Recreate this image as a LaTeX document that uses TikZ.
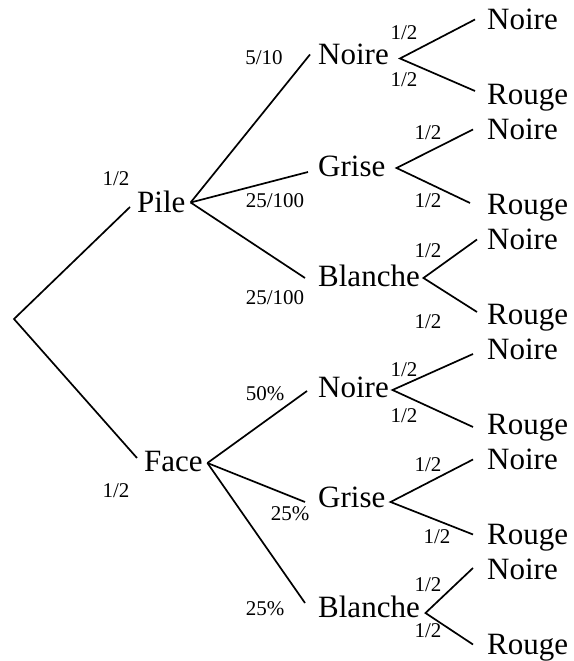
\documentclass[tikz,border=0pt]{standalone}
\usepackage{fontspec}
\setmainfont{Liberation Serif}
\begin{document}
\begin{tikzpicture}[x=1pt,y=1pt,
  big/.style={inner sep=0pt, anchor=base west, font=\fontsize{31}{31}\selectfont, text height=21pt, text depth=0pt},
  lab/.style={inner sep=0pt, font=\fontsize{21}{21}\selectfont, text height=14.3pt, text depth=0pt},
  edge/.style={line width=1.7pt}]
\useasboundingbox (0,0) rectangle (573,661);
% root and level 1
\coordinate (root) at (14,342);
\node[big] (pile) at (137,448) {Pile};
\node[big] (face) at (144,189) {Face};
% level 2
\node[big] (n1) at (318,596) {Noire};
\node[big] (g1) at (318,484) {Grise};
\node[big] (b1) at (318,374) {Blanche};
\node[big] (n2) at (318,263) {Noire};
\node[big] (g2) at (318,153) {Grise};
\node[big] (b2) at (318,43) {Blanche};
% leaves
\node[big] (l1) at (487,631) {Noire};
\node[big] (l2) at (487,556) {Rouge};
\node[big] (l3) at (487,521) {Noire};
\node[big] (l4) at (487,446) {Rouge};
\node[big] (l5) at (487,411) {Noire};
\node[big] (l6) at (487,336) {Rouge};
\node[big] (l7) at (487,301) {Noire};
\node[big] (l8) at (487,226) {Rouge};
\node[big] (l9) at (487,191) {Noire};
\node[big] (l10) at (487,116) {Rouge};
\node[big] (l11) at (487,81) {Noire};
\node[big] (l12) at (487,6) {Rouge};
% edges
\draw[edge] ([shift={(-7,-4.5)}]pile.west) -- (root) -- ([shift={(-7,3.5)}]face.west);
\draw[edge] ([shift={(5,0)}]pile.east) -- ([shift={(-8,0)}]n1.west);
\draw[edge] ([shift={(5,0)}]pile.east) -- ([shift={(-10,-5.5)}]g1.west);
\draw[edge] ([shift={(5,0)}]pile.east) -- ([shift={(-13,-1.5)}]b1.west);
\draw[edge] ([shift={(4.5,-1.5)}]face.east) -- ([shift={(-11,-3.5)}]n2.west);
\draw[edge] ([shift={(4.5,-1.5)}]face.east) -- ([shift={(-13,-4.5)}]g2.west);
\draw[edge] ([shift={(4.5,-1.5)}]face.east) -- ([shift={(-13,4.5)}]b2.west);
\draw[edge] ([shift={(-12,0)}]l1.west) -- ([shift={(11,-4)}]n1.east) -- ([shift={(-12,3.5)}]l2.west);
\draw[edge] ([shift={(-14,0)}]l3.west) -- ([shift={(11,-1.5)}]g1.east) -- ([shift={(-17,1.5)}]l4.west);
\draw[edge] ([shift={(-10,0)}]l5.west) -- ([shift={(3.5,-1.5)}]b1.east) -- ([shift={(-10,2.5)}]l6.west);
\draw[edge] ([shift={(-14,-4.5)}]l7.west) -- ([shift={(3.5,-2.5)}]n2.east) -- ([shift={(-14,-2.5)}]l8.west);
\draw[edge] ([shift={(-14,0)}]l9.west) -- ([shift={(5,-4.5)}]g2.east) -- ([shift={(-14,0)}]l10.west);
\draw[edge] ([shift={(-14,1.5)}]l11.west) -- ([shift={(5.5,-5.5)}]b2.east) -- ([shift={(-14,0)}]l12.west);
% labels
\node[lab] (p1) at (116,483) {1/2};
\node[lab] (p2) at (116,171) {1/2};
\node[lab] (q1) at (264,604) {5/10};
\node[lab] (q2) at (275,461) {25/100};
\node[lab] (q3) at (275,364) {25/100};
\node[lab] (q4) at (265,268) {50\%};
\node[lab] (q5) at (290,148) {25\%};
\node[lab] (q6) at (265,53) {25\%};
\node[lab] (r1) at (404,629) {1/2};
\node[lab] (r2) at (404,582) {1/2};
\node[lab] (r3) at (428,529) {1/2};
\node[lab] (r4) at (428,461) {1/2};
\node[lab] (r5) at (428,411) {1/2};
\node[lab] (r6) at (428,340) {1/2};
\node[lab] (r7) at (404,292) {1/2};
\node[lab] (r8) at (404,246) {1/2};
\node[lab] (r9) at (428,197) {1/2};
\node[lab] (r10) at (437,125) {1/2};
\node[lab] (r11) at (428,77) {1/2};
\node[lab] (r12) at (428,31) {1/2};
\end{tikzpicture}
\end{document}
